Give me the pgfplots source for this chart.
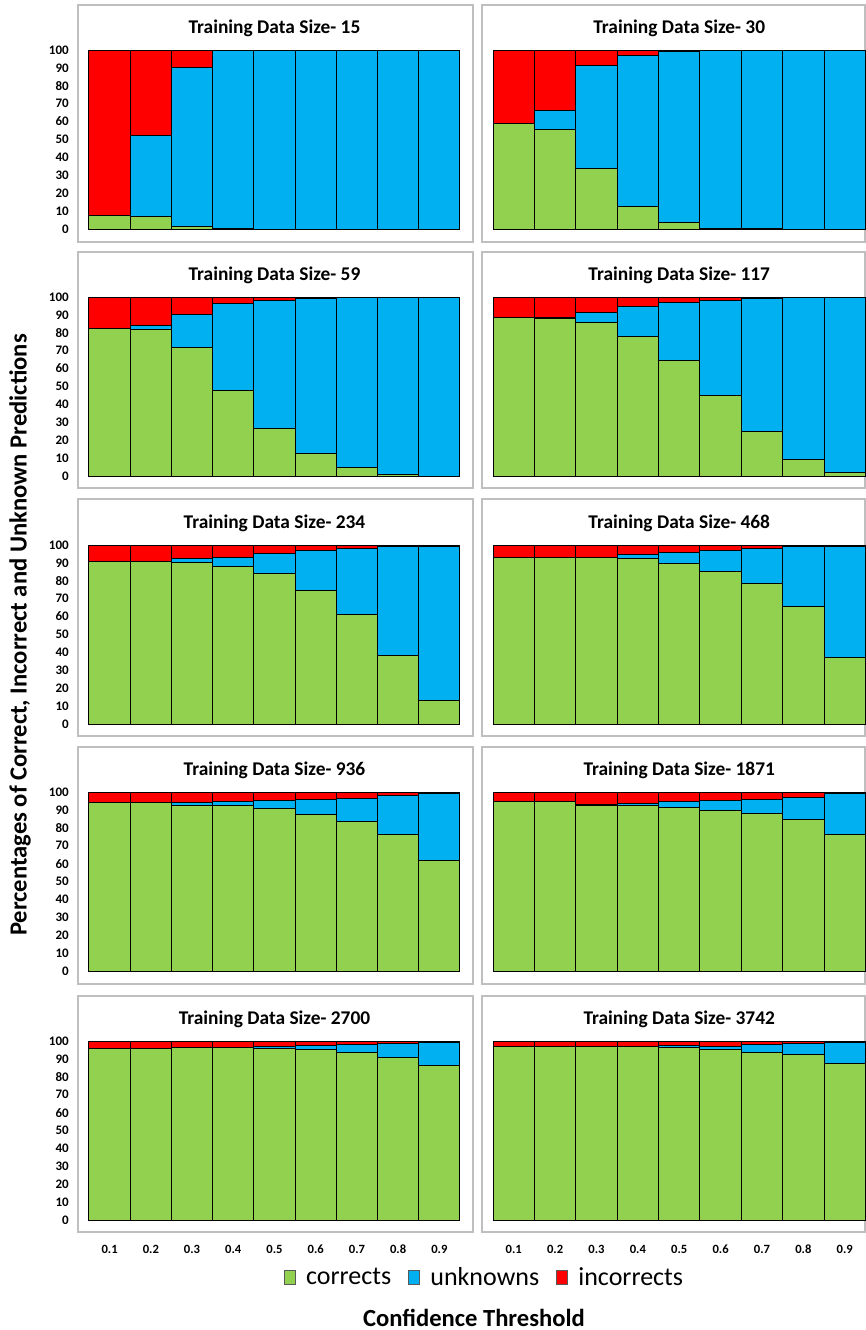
\documentclass[border=0pt]{standalone}
\usepackage{pgfplots}
\usepackage{pgfplotstable}
\pgfplotsset{compat=1.18}
\usepackage{fontspec}
\setmainfont{Carlito}

\definecolor{cgreen}{RGB}{146,208,80}
\definecolor{cblue}{RGB}{0,176,240}
\definecolor{cred}{RGB}{255,0,0}
\definecolor{framegray}{RGB}{191,191,191}

% x = threshold index, c = corrects, u = unknowns, r = incorrects (percent)
\pgfplotstableread{
x c u r
1 7.8 0 92.2
2 6.9 45.6 47.5
3 1.3 88.8 9.9
4 0.3 99.7 0
5 0 100 0
6 0 100 0
7 0 100 0
8 0 100 0
9 0 100 0
}\tabA
\pgfplotstableread{
x c u r
1 59.0 0 41.0
2 55.7 10.6 33.7
3 33.7 57.5 8.8
4 12.5 84.5 3.0
5 3.5 95.5 1.0
6 0.5 99.3 0.2
7 0.2 99.8 0
8 0 100 0
9 0 100 0
}\tabB
\pgfplotstableread{
x c u r
1 82.5 0 17.5
2 82.1 1.9 16.0
3 71.7 18.8 9.5
4 47.9 48.2 3.9
5 26.3 72.0 1.7
6 12.5 86.8 0.7
7 4.5 95.1 0.4
8 0.9 99.1 0
9 0 100 0
}\tabC
\pgfplotstableread{
x c u r
1 88.6 0 11.4
2 88.1 0.2 11.7
3 85.5 5.6 8.9
4 77.7 16.9 5.4
5 64.8 32.2 3.0
6 45.1 53.2 1.7
7 24.8 74.5 0.7
8 9.1 90.5 0.4
9 1.7 98.3 0
}\tabD
\pgfplotstableread{
x c u r
1 90.9 0 9.1
2 90.9 0 9.1
3 90.5 1.7 7.8
4 87.9 5.4 6.7
5 83.9 11.6 4.5
6 74.6 22.4 3.0
7 61.4 36.6 2.0
8 38.0 60.9 1.1
9 13.2 86.1 0.7
}\tabE
\pgfplotstableread{
x c u r
1 93.3 0 6.7
2 93.3 0 6.7
3 92.9 0.2 6.9
4 92.4 2.4 5.2
5 89.8 6.1 4.1
6 85.1 11.9 3.0
7 78.3 19.7 2.0
8 65.4 33.5 1.1
9 37.0 62.3 0.7
}\tabF
\pgfplotstableread{
x c u r
1 94.0 0 6.0
2 94.0 0 6.0
3 92.7 1.2 6.1
4 92.2 2.4 5.4
5 90.9 4.1 5.0
6 87.2 8.5 4.3
7 83.8 12.8 3.4
8 76.5 21.6 1.9
9 61.5 37.6 0.9
}\tabG
\pgfplotstableread{
x c u r
1 94.6 0 5.4
2 94.6 0 5.4
3 92.7 0.2 7.1
4 92.7 1.0 6.3
5 91.6 3.0 5.4
6 89.9 5.4 4.7
7 88.1 7.8 4.1
8 84.9 12.3 2.8
9 76.5 22.4 1.1
}\tabH
\pgfplotstableread{
x c u r
1 95.9 0 4.1
2 95.9 0 4.1
3 96.3 0 3.7
4 96.3 0 3.7
5 95.9 0.9 3.2
6 95.3 2.3 2.4
7 93.7 4.3 2.0
8 90.9 7.8 1.3
9 86.4 12.9 0.7
}\tabI
\pgfplotstableread{
x c u r
1 97.0 0 3.0
2 97.0 0 3.0
3 97.0 0 3.0
4 97.0 0 3.0
5 96.5 0.9 2.6
6 95.3 1.9 2.8
7 93.7 4.1 2.2
8 92.6 6.1 1.3
9 87.2 12.1 0.7
}\tabJ

\pgfplotsset{
  panel/.style={
    anchor=south west, scale only axis,
    height=89.5pt,
    xmin=0.5, xmax=9.5, ymin=0, ymax=100,
    ybar stacked, bar width=1, enlarge x limits=false,
    axis line style={draw=none}, major tick length=0pt,
    xtick=\empty, ytick=\empty,
    clip=false,
    /pgf/number format/assume math mode=true,
    title style={font=\bfseries\fontsize{9.7}{11}\selectfont,
      anchor=base, at={(0.5,1)}, yshift=2.5pt},
  },
  leftpanel/.style={
    ytick={0,10,...,100},
    yticklabel style={font=\bfseries\fontsize{6.5}{7}\selectfont, xshift=-6.6pt},
  },
  bottompanel/.style={
    xtick={1,...,9},
    xticklabels={0.1,0.2,0.3,0.4,0.5,0.6,0.7,0.8,0.9},
    xticklabel style={font=\bfseries\fontsize{6.3}{7}\selectfont, yshift=-9pt},
  },
  legsq/.style={
    legend image code/.code={%
      \draw[##1, draw=gray!70!black, line width=0.5pt] (0pt,-3.3pt) rectangle (5.6pt,3.7pt);}
  },
}

% one panel: x, y of the plot's lower left corner, width, table, title, extra options
\newcommand{\panel}[6]{%
  \begin{axis}[panel, at={(#1,#2)}, width=#3, title={#5}, #6]
    \addplot[fill=cgreen, draw=black, line width=0.5pt, legsq] table[x=x, y=c] {#4};
    \addplot[fill=cblue, draw=black, line width=0.5pt, legsq] table[x=x, y=u] {#4};
    \addplot[fill=cred, draw=black, line width=0.5pt, legsq] table[x=x, y=r] {#4};
  \end{axis}}

\begin{document}
\begin{tikzpicture}
  \useasboundingbox (0pt,0pt) rectangle (433pt,-665pt);

  % panel frames
  \foreach \t/\b in {-2.5/-121, -126/-244, -249.5/-368, -373.5/-492, -498/-616} {
    \draw[framegray, line width=0.75pt] (39pt,\t pt) rectangle (236.5pt,\b pt);
    \draw[framegray, line width=0.75pt] (241pt,\t pt) rectangle (432.6pt,\b pt);
  }

  \panel{44.5pt}{-114.5pt}{185.5pt}{\tabA}{Training Data Size- 15}{leftpanel}
  \panel{246.5pt}{-114.5pt}{186.25pt}{\tabB}{Training Data Size- 30}{}
  \panel{44.5pt}{-238pt}{185.5pt}{\tabC}{Training Data Size- 59}{leftpanel}
  \panel{246.5pt}{-238pt}{186.25pt}{\tabD}{Training Data Size- 117}{}
  \panel{44.5pt}{-362pt}{185.5pt}{\tabE}{Training Data Size- 234}{leftpanel}
  \panel{246.5pt}{-362pt}{186.25pt}{\tabF}{Training Data Size- 468}{}
  \panel{44.5pt}{-485.5pt}{185.5pt}{\tabG}{Training Data Size- 936}{leftpanel}
  \panel{246.5pt}{-485.5pt}{186.25pt}{\tabH}{Training Data Size- 1871}{}
  \panel{44.5pt}{-610pt}{185.5pt}{\tabI}{Training Data Size- 2700}{leftpanel, bottompanel}
  \panel{246.5pt}{-610pt}{186.25pt}{\tabJ}{Training Data Size- 3742}{bottompanel,
    legend entries={corrects, unknowns, incorrects},
    legend columns=3,
    legend style={at={(-0.0215,-0.324)}, anchor=center, draw=none, fill=none,
      font=\fontsize{13}{15}\selectfont,
      nodes={inner sep=1.5pt},
      /tikz/every odd column/.append style={column sep=3.5pt},
      /tikz/every even column/.append style={column sep=7pt}},
  }

  % shared axis titles
  \node[font=\bfseries\fontsize{12.3}{14}\selectfont, rotate=90] at (10pt,-317.5pt)
    {Percentages of Correct, Incorrect and Unknown Predictions};
  \node[font=\bfseries\fontsize{12.3}{14}\selectfont] at (237pt,-659pt) {Confidence Threshold};
\end{tikzpicture}
\end{document}
